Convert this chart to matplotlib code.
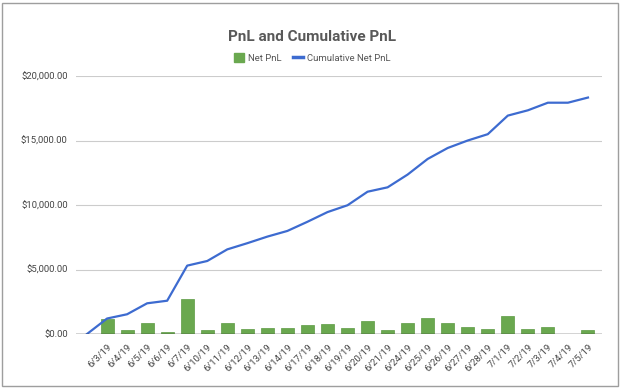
import matplotlib
matplotlib.use("Agg")
from matplotlib import pyplot as plt
import matplotlib.patches as mpatches
from matplotlib.lines import Line2D
from matplotlib.ticker import FuncFormatter

dates = ['', '6/3/19', '6/4/19', '6/5/19', '6/6/19', '6/7/19', '6/10/19', '6/11/19',
         '6/12/19', '6/13/19', '6/14/19', '6/17/19', '6/18/19', '6/19/19', '6/20/19',
         '6/21/19', '6/24/19', '6/25/19', '6/26/19', '6/27/19', '6/28/19', '7/1/19',
         '7/2/19', '7/3/19', '7/4/19', '7/5/19']
net_pnl = [0, 1200, 310, 850, 180, 2680, 310, 850, 360, 460, 460, 700, 770, 460,
           1030, 330, 830, 1260, 830, 520, 390, 1420, 390, 570, 0, 330]
cum_pnl = [0, 1200, 1530, 2380, 2580, 5300, 5660, 6560, 7040, 7550, 7990, 8700, 9450,
           9980, 11030, 11370, 12360, 13570, 14420, 15000, 15490, 16930, 17340, 17930,
           17930, 18330]
y_ticks = [0, 5000, 10000, 15000, 20000]

plt.rcParams['font.family'] = ['Roboto', 'DejaVu Sans']

fig = plt.figure(figsize=(6.25, 3.91), dpi=100)
ax = fig.add_axes([76/625, 1-334/391, 526/625, 258/391])

x = list(range(len(dates)))
ax.bar(x, net_pnl, width=0.65, color='#6aa84f', edgecolor='#5b9a42', linewidth=0.5, zorder=2)
ax.plot(x, cum_pnl, color='#3d6bd0', linewidth=1.6, zorder=3)

ax.set_xlim(-0.55, 25.7)
ax.set_ylim(0, 20000)
ax.set_yticks(y_ticks)
ax.yaxis.set_major_formatter(FuncFormatter(lambda v, p: '${:,.2f}'.format(v)))
ax.grid(axis='y', color='#cccccc', linewidth=0.8, zorder=0)
ax.set_axisbelow(True)
ax.axhline(0, color='#333333', linewidth=1.0, zorder=4)

ax.set_xticks(x)
ax.set_xticklabels(dates, rotation=45, ha='right', rotation_mode='anchor',
                   fontsize=6.8, color='#444444')
ax.tick_params(axis='x', length=0, pad=6)
ax.tick_params(axis='y', length=0, pad=6, labelsize=6.8, labelcolor='#444444')
for s in ax.spines.values():
    s.set_visible(False)

fig.text(0.5, 1-37/391, 'PnL and Cumulative PnL', ha='center', va='center',
         fontsize=11, fontweight='bold', color='#595959')

patches = [mpatches.Patch(color='#6aa84f', label='Net PnL'),
           Line2D([0], [0], color='#3d6bd0', linewidth=2.5, label='Cumulative Net PnL')]
fig.legend(handles=patches, loc='center', bbox_to_anchor=(0.5, 1-58/391), ncol=2,
           frameon=False, fontsize=6.8, labelcolor='#555555', handlelength=1.0,
           handleheight=1.0, handletextpad=0.5, columnspacing=1.2)

fig.patches.append(mpatches.Rectangle((2/625, 1-386/391), 616/625, 383/391,
                                      transform=fig.transFigure, fill=False,
                                      edgecolor='#9e9e9e', linewidth=1.0))

fig.savefig('out.png', dpi=100)
